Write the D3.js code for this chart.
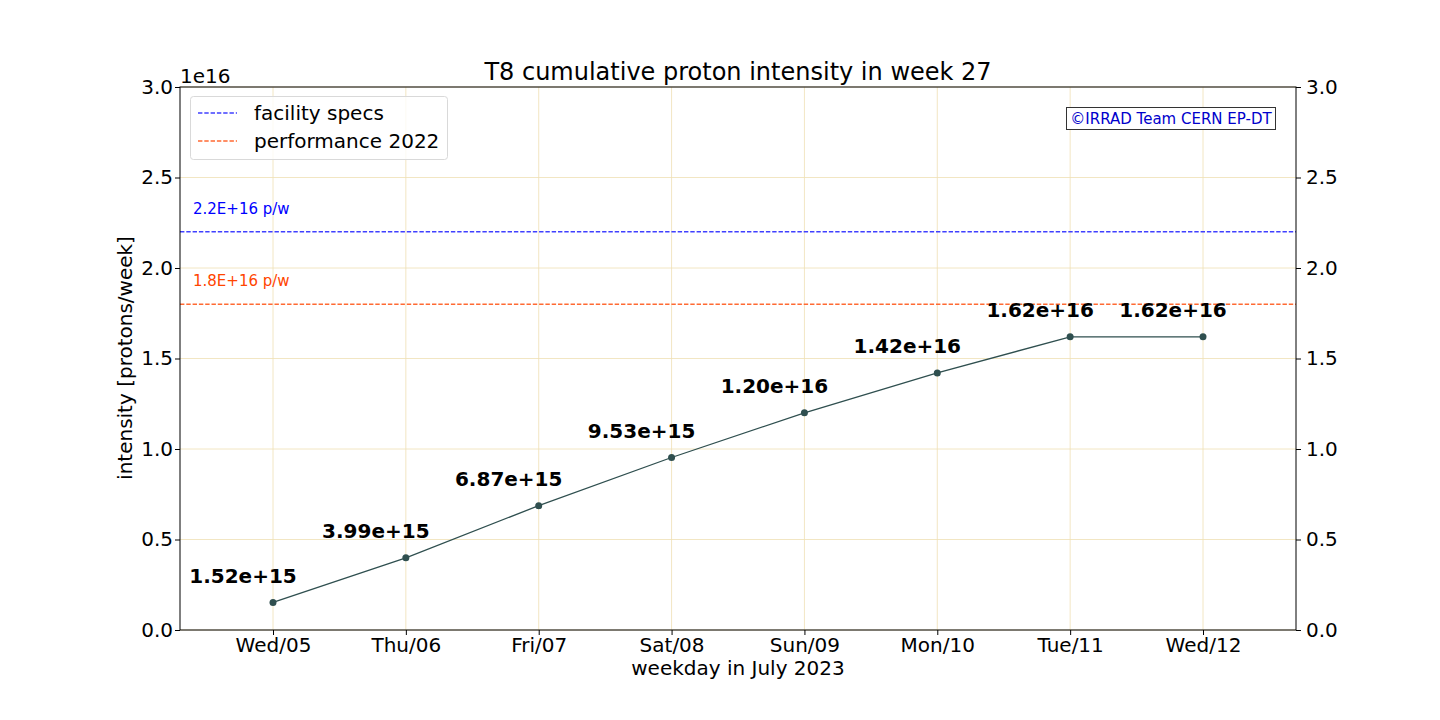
<!DOCTYPE html>
<html><head><meta charset="utf-8">
<script src="https://cdn.jsdelivr.net/npm/d3@7"></script>
<style>body{margin:0;background:#fff;} text{font-family:"DejaVu Sans",sans-serif;}</style>
</head><body><svg id="c" width="1440" height="720"></svg>
<script>
const days = ["Wed/05","Thu/06","Fri/07","Sat/08","Sun/09","Mon/10","Tue/11","Wed/12"];
const intensity = [1.52e15, 3.99e15, 6.87e15, 9.53e15, 1.20e16, 1.42e16, 1.62e16, 1.62e16];
const valueLabels = ["1.52e+15","3.99e+15","6.87e+15","9.53e+15","1.20e+16","1.42e+16","1.62e+16","1.62e+16"];
const yTicks = [0, 0.5e16, 1.0e16, 1.5e16, 2.0e16, 2.5e16, 3.0e16];
const refLines = [
  {name:"facility specs", value:2.2e16, label:"2.2E+16 p/w", color:"#0000ff", lcolor:"#4040ff"},
  {name:"performance 2022", value:1.8e16, label:"1.8E+16 p/w", color:"#ff4500", lcolor:"#ff6a33"}
];

const svg = d3.select("#c");
const L=180, R=1296, T=87, B=630;
const x = d3.scaleLinear().domain([-0.7, 7.7]).range([L,R]);
const y = d3.scaleLinear().domain([0,3.0e16]).range([B,T]);

// grid
const g = svg.append("g");
g.selectAll(".vg").data(days).enter().append("line")
  .attr("x1",(d,i)=>x(i)).attr("x2",(d,i)=>x(i)).attr("y1",T).attr("y2",B)
  .attr("stroke","#efe0b4").attr("stroke-width",0.8);
g.selectAll(".hg").data(yTicks).enter().append("line")
  .attr("x1",L).attr("x2",R).attr("y1",d=>y(d)).attr("y2",d=>y(d))
  .attr("stroke","#efe0b4").attr("stroke-width",0.8);

// ref lines
refLines.forEach(r=>{
  svg.append("line").attr("x1",L).attr("x2",R).attr("y1",y(r.value)).attr("y2",y(r.value))
    .attr("stroke",r.lcolor).attr("stroke-width",1.4).attr("stroke-dasharray","4.4,1.9");
  svg.append("text").attr("x",L+13).attr("y",y(r.value)-18).attr("fill",r.color)
    .attr("font-size",15).text(r.label);
});

// data line
svg.append("path").datum(intensity)
  .attr("d", d3.line().x((d,i)=>x(i)).y(d=>y(d)))
  .attr("fill","none").attr("stroke","#2f4f4f").attr("stroke-width",1.3);
svg.selectAll(".pt").data(intensity).enter().append("circle")
  .attr("cx",(d,i)=>x(i)).attr("cy",d=>y(d)).attr("r",3.5).attr("fill","#2f4f4f");
svg.selectAll(".vl").data(intensity).enter().append("text")
  .attr("x",(d,i)=>x(i)-30).attr("y",d=>y(d)-19.5).attr("text-anchor","middle")
  .attr("font-size",20).attr("font-weight","bold").attr("fill","#000")
  .text((d,i)=>valueLabels[i]);

// axes
const fmt = d=>(d/1e16).toFixed(1);
const xa = svg.append("g").attr("transform",`translate(0,${B})`)
  .call(d3.axisBottom(x).tickValues(d3.range(days.length)).tickFormat(i=>days[i]).tickSize(5).tickPadding(5));
const yl = svg.append("g").attr("transform",`translate(${L},0)`)
  .call(d3.axisLeft(y).tickValues(yTicks).tickFormat(fmt).tickSize(5).tickPadding(2));
const yr = svg.append("g").attr("transform",`translate(${R},0)`)
  .call(d3.axisRight(y).tickValues(yTicks).tickFormat(fmt).tickSize(5).tickPadding(5));
[xa,yl,yr].forEach(a=>{
  a.select(".domain").remove();
  a.selectAll("text").attr("font-size",20).attr("fill","#000").style("font-family","DejaVu Sans");
  a.selectAll("line").attr("stroke","#000").attr("stroke-width",1);
});
xa.selectAll("text").attr("dy","0.6em");
svg.append("rect").attr("x",L).attr("y",T).attr("width",R-L).attr("height",B-T)
  .attr("fill","none").attr("stroke","#000").attr("stroke-width",1);

// labels
svg.append("text").attr("x",738).attr("y",80).attr("text-anchor","middle").attr("font-size",24).text("T8 cumulative proton intensity in week 27");
svg.append("text").attr("x",738).attr("y",675).attr("text-anchor","middle").attr("font-size",20).text("weekday in July 2023");
svg.append("text").attr("transform",`translate(132,358) rotate(-90)`).attr("text-anchor","middle").attr("font-size",20).text("intensity [protons/week]");
svg.append("text").attr("x",L).attr("y",83).attr("font-size",20).text("1e16");

// legend
const lg = svg.append("g");
lg.append("rect").attr("x",190.5).attr("y",96.5).attr("width",257).attr("height",63).attr("rx",3)
  .attr("fill","#fff").attr("fill-opacity",0.8).attr("stroke","#d9d9d9");
refLines.forEach((r,i)=>{
  const yy = 113 + i*28;
  lg.append("line").attr("x1",198).attr("x2",237).attr("y1",yy).attr("y2",yy)
    .attr("stroke",r.lcolor).attr("stroke-width",1.4).attr("stroke-dasharray","4.4,1.9");
  lg.append("text").attr("x",254).attr("y",yy+7).attr("font-size",20).text(r.name);
});

// copyright box
svg.append("rect").attr("x",1066.5).attr("y",107.5).attr("width",209).attr("height",22)
  .attr("fill","#fff").attr("stroke","#333").attr("stroke-width",1);
svg.append("text").attr("x",1171).attr("y",124).attr("text-anchor","middle").attr("font-size",15).attr("fill","#0000cc").text("©IRRAD Team CERN EP-DT");
</script></body></html>
